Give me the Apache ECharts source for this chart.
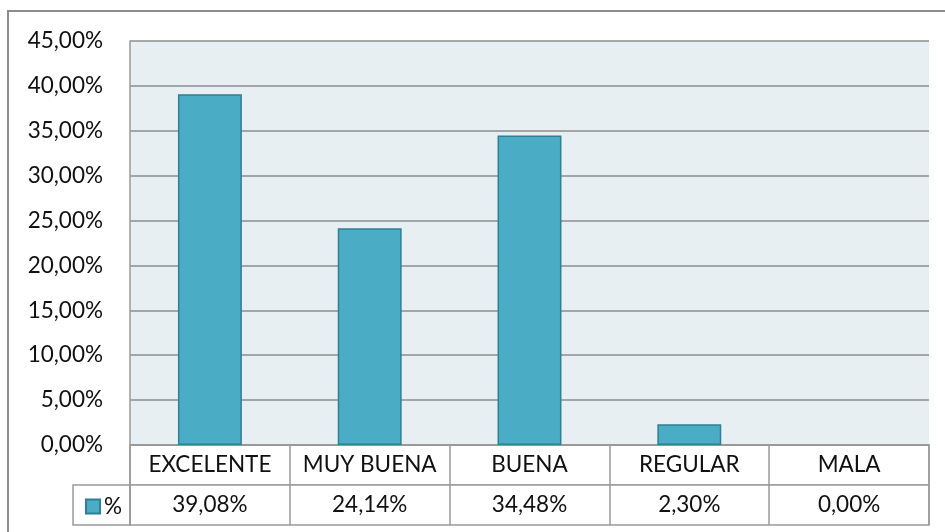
<!DOCTYPE html>
<html>
<head>
<meta charset="utf-8">
<script src="https://cdn.jsdelivr.net/npm/echarts@6/dist/echarts.min.js"></script>
<style>
  html, body { margin: 0; padding: 0; background: #fff; }
  #main { width: 945px; height: 532px; }
</style>
</head>
<body>
<div id="main"></div>
<script>
const categories = ['EXCELENTE', 'MUY BUENA', 'BUENA', 'REGULAR', 'MALA']
const values = [39.08, 24.14, 34.48, 2.30, 0.00]
const seriesName = '%'
const yMin = 0
const yMax = 45
const yStep = 5

const fmt = (v) => Number(v).toFixed(2).replace('.', ',') + '%'

const font = 'Lato, "Open Sans", sans-serif'
const fontSize = 22.5
const textColor = '#111'
const lineColor = '#9a9a9a'

const chartDom = document.getElementById('main')
const myChart = echarts.init(chartDom)

const option = {
  animation: false,
  textStyle: { fontFamily: font },
  graphic: [
    {
      // outer chart border
      type: 'rect',
      shape: { x: 8, y: 11, width: 1000, height: 600 },
      style: { fill: 'none', stroke: '#8c8c8c', lineWidth: 2 },
      silent: true
    }
  ],
  legend: {
    data: [seriesName],
    icon: 'rect',
    left: 80,
    top: 490,
    itemWidth: 14,
    itemHeight: 14,
    itemGap: 4,
    textStyle: { fontFamily: font, fontSize: fontSize, color: textColor, padding: [0, 0, 2, -1] }
  },
  grid: [
    // plot area
    { left: 130, right: 16, top: 41, height: 404, show: true, backgroundColor: '#E8EFF3', borderWidth: 0 },
    // header row of the data table
    { left: 130, right: 16, top: 445, height: 40, show: true, backgroundColor: '#fff', borderColor: lineColor, borderWidth: 1.5 },
    // value row of the data table
    { left: 130, right: 16, top: 485, height: 40, show: true, backgroundColor: '#fff', borderColor: lineColor, borderWidth: 1.5 },
    // legend cell
    { left: 73, width: 57, top: 485, height: 40, show: true, backgroundColor: '#fff', borderColor: lineColor, borderWidth: 1.5 }
  ],
  xAxis: [
    {
      gridIndex: 0,
      type: 'category',
      data: categories,
      axisLine: { show: true, lineStyle: { color: lineColor, width: 1.5 } },
      axisTick: { show: false },
      axisLabel: { show: false }
    },
    {
      gridIndex: 1,
      type: 'category',
      data: categories,
      position: 'top',
      axisLine: { show: false },
      axisTick: { show: false },
      splitLine: { show: true, interval: 0, lineStyle: { color: lineColor, width: 1.5 } },
      axisLabel: {
        inside: true,
        interval: 0,
        margin: 20,
        verticalAlign: 'middle',
        fontFamily: font,
        fontSize: fontSize,
        color: textColor
      }
    },
    {
      gridIndex: 2,
      type: 'category',
      data: categories,
      position: 'top',
      axisLine: { show: false },
      axisTick: { show: false },
      splitLine: { show: true, interval: 0, lineStyle: { color: lineColor, width: 1.5 } },
      axisLabel: {
        inside: true,
        interval: 0,
        margin: 20,
        verticalAlign: 'middle',
        fontFamily: font,
        fontSize: fontSize,
        color: textColor,
        formatter: (v, i) => fmt(values[i])
      }
    },
    { gridIndex: 3, type: 'category', data: [''], show: false }
  ],
  yAxis: [
    {
      gridIndex: 0,
      type: 'value',
      min: yMin,
      max: yMax,
      interval: yStep,
      axisLine: { show: true, lineStyle: { color: lineColor, width: 1.5 } },
      axisTick: { show: false },
      splitLine: { show: true, lineStyle: { color: '#8c8c8c', width: 1.5 } },
      axisLabel: {
        margin: 27,
        fontFamily: font,
        fontSize: fontSize,
        color: textColor,
        formatter: fmt
      }
    },
    { gridIndex: 1, type: 'value', show: false },
    { gridIndex: 2, type: 'value', show: false },
    { gridIndex: 3, type: 'value', show: false }
  ],
  series: [
    {
      name: seriesName,
      type: 'bar',
      xAxisIndex: 0,
      yAxisIndex: 0,
      barWidth: '40%',
      // a zero bar draws no outline in the reference
      data: values.map((v) => (v === 0 ? { value: v, itemStyle: { borderWidth: 0 } } : v)),
      itemStyle: { color: '#4BACC6', borderColor: '#2F7F95', borderWidth: 1.5 }
    }
  ]
}

option && myChart.setOption(option)
</script>
</body>
</html>
